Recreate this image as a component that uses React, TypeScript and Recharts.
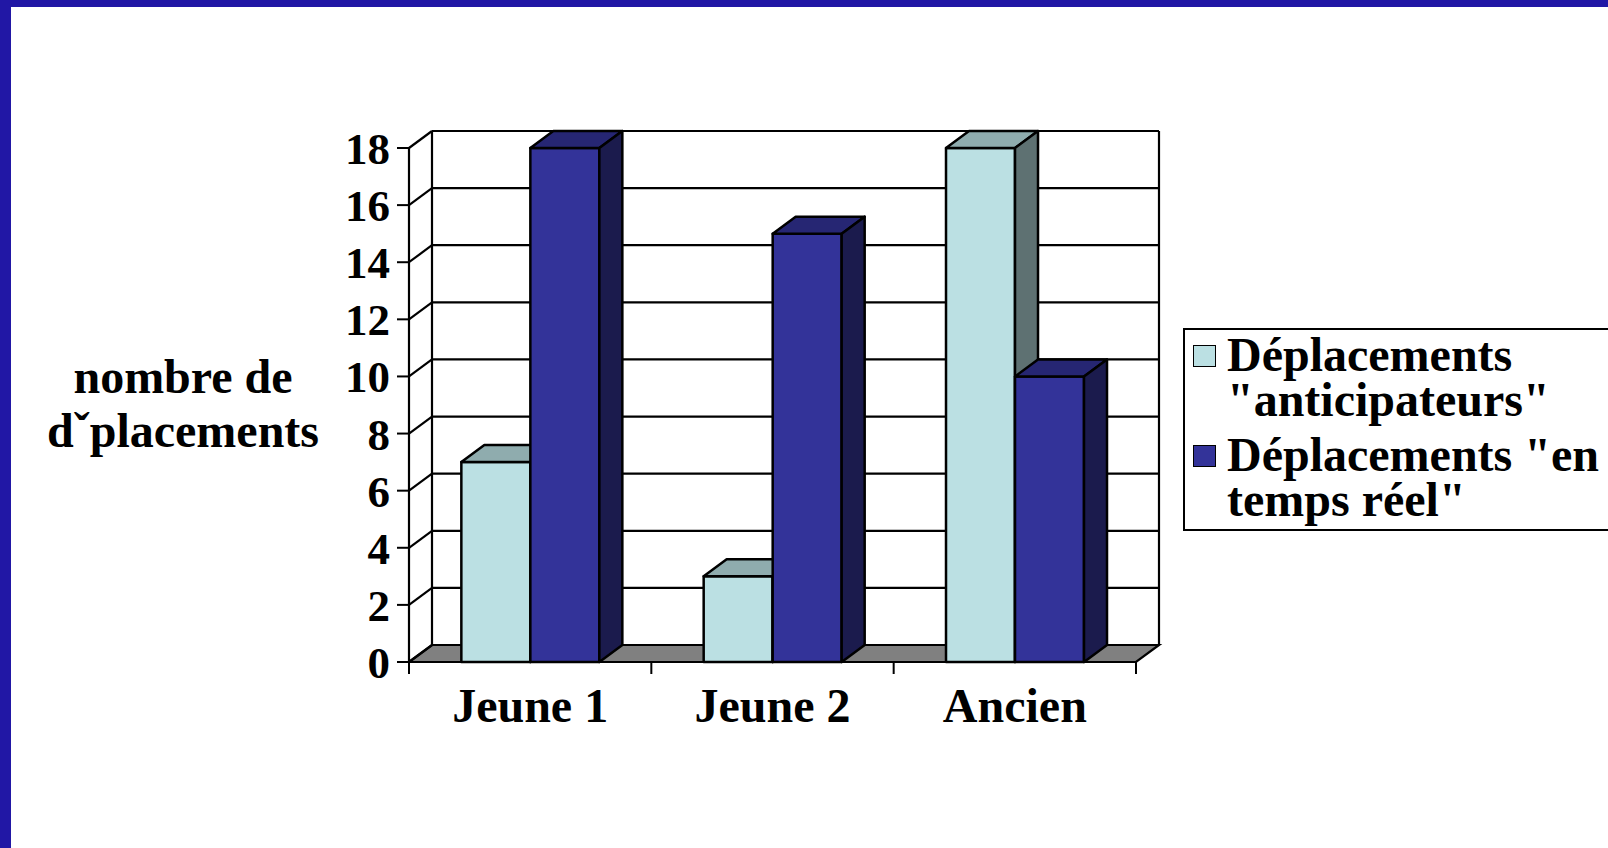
import React from 'react';
import { BarChart, Bar, XAxis, YAxis, CartesianGrid, Legend } from 'recharts';

const categories = ['Jeune 1', 'Jeune 2', 'Ancien'];
const anticipateurs = [7, 3, 18];
const tempsReel = [18, 15, 10];
const seriesNames = ['Déplacements "anticipateurs"', 'Déplacements "en temps réel"'];
const yTicks = [0, 2, 4, 6, 8, 10, 12, 14, 16, 18];
const yLabel = ['nombre de', 'dˇplacements'];

const data = categories.map((name, i) => ({
  name,
  anticipateurs: anticipateurs[i],
  tempsReel: tempsReel[i],
}));

// depth of the 3D effect
const DX = 23;
const DY = -17;
const FONT = '"Liberation Serif", "Times New Roman", serif';

const makeBox = (front: string, top: string, side: string) => (props: any) => {
  const { x, y, width, height } = props;
  if (width == null || height == null) return null;
  const s = { stroke: '#000', strokeWidth: 2.5, strokeLinejoin: 'round' as const };
  return (
    <g>
      <rect x={x} y={y} width={width} height={height} fill={front} {...s} />
      <polygon
        points={`${x},${y} ${x + DX},${y + DY} ${x + width + DX},${y + DY} ${x + width},${y}`}
        fill={top}
        {...s}
      />
      <polygon
        points={`${x + width},${y} ${x + width + DX},${y + DY} ${x + width + DX},${y + height + DY} ${x + width},${y + height}`}
        fill={side}
        {...s}
      />
    </g>
  );
};

const LightBox = makeBox('#BBE0E3', '#8FACAE', '#5E7172');
const DarkBox = makeBox('#333399', '#262673', '#1B1B4D');

const gridLine = (p: any) => {
  const { x1, y1, x2, y, height } = p;
  const bottom = Math.abs(y1 - (y + height)) < 0.5;
  const s = { stroke: '#000', strokeWidth: 2.2 };
  return (
    <g key={p.key ?? p.index}>
      {bottom && (
        <>
          <polygon
            points={`${x1},${y1} ${x1 + DX},${y1 + DY} ${x2 + DX},${y1 + DY} ${x2},${y1}`}
            fill="#808080"
            {...s}
          />
          <line x1={x1 + DX} y1={y + DY} x2={x1 + DX} y2={y1 + DY} {...s} />
          <line x1={x2 + DX} y1={y + DY} x2={x2 + DX} y2={y1 + DY} {...s} />
        </>
      )}
      <line x1={x1} y1={y1} x2={x1 + DX} y2={y1 + DY} {...s} />
      <line x1={x1 + DX} y1={y1 + DY} x2={x2 + DX} y2={y1 + DY} {...s} />
    </g>
  );
};

const CategoryTick = (props: any) => {
  const { x, y, payload } = props;
  const half = payload?.offset ?? 727 / categories.length / 2;
  const last = payload?.index === categories.length - 1;
  return (
    <g>
      <line x1={x - half} y1={y} x2={x - half} y2={y + 12} stroke="#000" strokeWidth={2} />
      {last && <line x1={x + half} y1={y} x2={x + half} y2={y + 12} stroke="#000" strokeWidth={2} />}
      <text x={x} y={y + 60} textAnchor="middle" fontFamily={FONT} fontWeight="bold" fontSize={48} fill="#000">
        {payload.value}
      </text>
    </g>
  );
};

const renderYLabel = () => (
  <text textAnchor="middle" fontFamily={FONT} fontWeight="bold" fontSize={48} fill="#000">
    <tspan x={183} y={393}>{yLabel[0]}</tspan>
    <tspan x={183} y={447}>{yLabel[1]}</tspan>
  </text>
);

const renderLegend = (props: any) => {
  const items = props.payload ?? [];
  return (
    <div
      style={{
        position: 'relative',
        width: '100%',
        height: '100%',
        boxSizing: 'border-box',
        border: '2px solid #000',
        background: '#fff',
      }}
    >
      {items.map((it: any, i: number) => (
        <React.Fragment key={i}>
          <div
            style={{
              position: 'absolute',
              left: 8,
              top: 15 + i * 100,
              width: 23,
              height: 22,
              boxSizing: 'border-box',
              background: it.color,
              border: '1.5px solid #000',
            }}
          />
          <div
            style={{
              position: 'absolute',
              left: 42,
              top: 2 + i * 100,
              width: 385,
              fontFamily: FONT,
              fontWeight: 'bold',
              fontSize: 48,
              lineHeight: '45px',
              color: '#000',
            }}
          >
            {it.value}
          </div>
        </React.Fragment>
      ))}
    </div>
  );
};

export default function App() {
  return (
    <div
      style={{
        position: 'absolute',
        left: 0,
        top: 0,
        width: 1608,
        height: 848,
        overflow: 'hidden',
        background: '#fff',
      }}
    >
      <BarChart
        width={1608}
        height={848}
        data={data}
        margin={{ top: 148, right: 472, bottom: 0, left: 0 }}
        barCategoryGap="21.6%"
        barGap={0}
      >
        <CartesianGrid vertical={false} horizontal={gridLine} />
        <XAxis
          dataKey="name"
          height={186}
          axisLine={{ stroke: '#000', strokeWidth: 2.2 }}
          tickLine={false}
          tickSize={0}
          tickMargin={0}
          tick={<CategoryTick />}
          interval={0}
        />
        <YAxis
          width={409}
          domain={[0, 18]}
          ticks={yTicks}
          interval={0}
          axisLine={{ stroke: '#000', strokeWidth: 2.2 }}
          tickLine={{ stroke: '#000', strokeWidth: 2 }}
          tickSize={12}
          tickMargin={7}
          tick={{ fill: '#000', fontSize: 45, fontWeight: 'bold', fontFamily: FONT }}
          label={renderYLabel}
        />
        <Legend
          layout="vertical"
          align="center"
          verticalAlign="middle"
          content={renderLegend}
          wrapperStyle={{ position: 'absolute', left: 1183, top: 328, width: 440, height: 203, margin: 0, padding: 0 }}
        />
        <Bar
          dataKey="anticipateurs"
          name={seriesNames[0]}
          fill="#BBE0E3"
          shape={LightBox}
          isAnimationActive={false}
        />
        <Bar
          dataKey="tempsReel"
          name={seriesNames[1]}
          fill="#333399"
          shape={DarkBox}
          isAnimationActive={false}
        />
      </BarChart>
      <div style={{ position: 'absolute', left: 0, top: 0, width: 1608, height: 7, background: '#2117A5' }} />
      <div style={{ position: 'absolute', left: 0, top: 0, width: 11, height: 848, background: '#2117A5' }} />
    </div>
  );
}
